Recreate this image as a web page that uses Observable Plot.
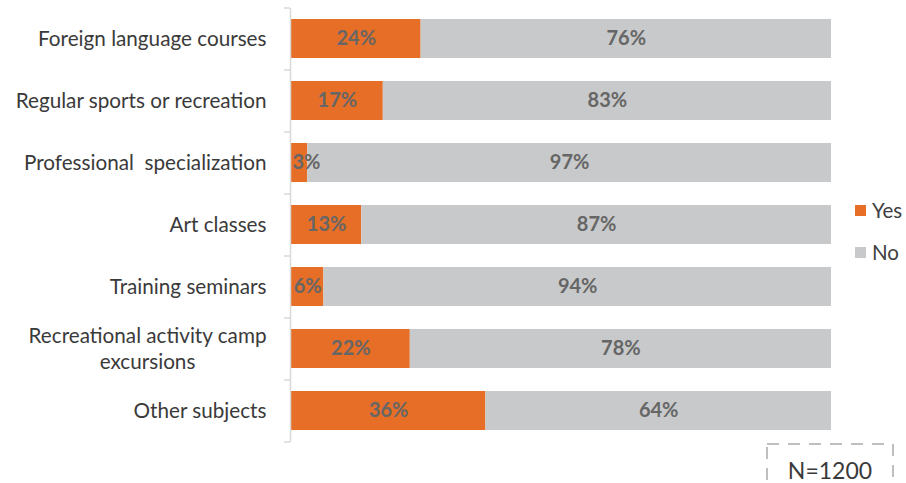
<!DOCTYPE html>
<html>
<head>
<meta charset="utf-8">
<script src="https://cdn.jsdelivr.net/npm/d3@7"></script>
<script src="https://cdn.jsdelivr.net/npm/@observablehq/plot@0.6"></script>
<style>
  html, body { margin: 0; padding: 0; background: #fff; }
  #wrap { position: relative; width: 906px; height: 483px; overflow: hidden; font-family: Lato, "Open Sans", sans-serif; }
  #legend { position: absolute; left: 855px; top: 198px; color: #404040; font-size: 20.5px; }
  #legend .item { display: flex; align-items: center; height: 24px; margin-bottom: 18px; }
  #legend .sw { width: 11px; height: 11px; margin-right: 6px; }
  #note { position: absolute; left: 766px; top: 443px; }
</style>
</head>
<body>
<div id="wrap">
  <div id="chart"></div>
  <div id="legend"></div>
  <svg id="note" width="130" height="45"></svg>
</div>
<script>
const categories = [
  "Foreign language courses",
  "Regular sports or recreation",
  "Professional  specialization",
  "Art classes",
  "Training seminars",
  "Recreational activity camp\nexcursions",
  "Other subjects"
];
const answers = ["Yes", "No"];
const yesValues = [24, 17, 3, 13, 6, 22, 36];
const noValues = [76, 83, 97, 87, 94, 78, 64];
const colors = ["#E66E26", "#C8C9CA"];
const noteText = "N=1200";

const data = categories.flatMap((c, i) => [
  {category: c, answer: "Yes", value: yesValues[i]},
  {category: c, answer: "No", value: noValues[i]}
]);

const W = 906, H = 483, mt = 8, mb = 41, ml = 291, mr = 75;
const step = (H - mt - mb) / categories.length;
const small = d => d.answer === "Yes" && d.value < 5;

const chart = Plot.plot({
  width: W, height: H,
  marginTop: mt, marginBottom: mb, marginLeft: ml, marginRight: mr,
  style: {fontFamily: "Lato, 'Open Sans', sans-serif", background: "#fff"},
  x: {domain: [0, 100], axis: null},
  y: {domain: categories, paddingInner: 0.37, paddingOuter: 0.185, axis: null, label: null},
  color: {domain: answers, range: colors},
  marks: [
    Plot.barX(data, Plot.stackX({x: "value", y: "category", fill: "answer", order: answers})),
    Plot.text(data, Plot.stackX({
      x: "value", y: "category", z: "answer", order: answers,
      text: d => small(d) ? "" : d.value + "%",
      fill: "#666666", fontWeight: "bold", fontSize: 20
    })),
    Plot.text(data.filter(small), {
      x: 0, y: "category", text: d => d.value + "%",
      textAnchor: "start", dx: 1,
      fill: "#666666", fontWeight: "bold", fontSize: 20
    }),
    Plot.ruleX([0], {stroke: "#D9D9D9", strokeWidth: 1.5, dx: -1}),
    Plot.axisY({ticks: categories, tickSize: 6, tickFormat: () => "", label: null, stroke: "#D9D9D9", strokeWidth: 1.5, dy: -step / 2, dx: -1}),
    Plot.axisY({ticks: [categories[categories.length - 1]], tickSize: 6, tickFormat: () => "", label: null, stroke: "#D9D9D9", strokeWidth: 1.5, dy: step / 2, dx: -1}),
    Plot.text(categories, {
      y: d => d, text: d => d, frameAnchor: "left", textAnchor: "end", dx: -25, dy: -1,
      fill: "#3A3A3A", fontSize: 20.7, lineHeight: 1.25, className: "catlabels"
    })
  ]
});
document.getElementById("chart").appendChild(chart);

// center multi-line category labels the way the original does
document.querySelectorAll(".catlabels text").forEach(t => {
  const spans = t.querySelectorAll("tspan");
  if (spans.length > 1) {
    let w = 0;
    spans.forEach(s => { w = Math.max(w, s.getComputedTextLength()); });
    t.setAttribute("text-anchor", "middle");
    spans.forEach(s => s.setAttribute("x", -w / 2));
  }
});

// legend
const legend = document.getElementById("legend");
answers.forEach((a, i) => {
  const item = document.createElement("div");
  item.className = "item";
  item.innerHTML = `<div class="sw" style="background:${colors[i]}"></div><span>${a}</span>`;
  legend.appendChild(item);
});

// N note box
const note = d3.select("#note");
note.append("rect").attr("x", 1).attr("y", 1).attr("width", 126).attr("height", 60)
  .attr("fill", "none").attr("stroke", "#BFBFBF").attr("stroke-width", 2).attr("stroke-dasharray", "12 9");
note.append("text").attr("x", 64).attr("y", 36).attr("text-anchor", "middle")
  .attr("font-size", 23).attr("fill", "#3A3A3A").attr("font-family", "Lato, 'Open Sans', sans-serif").text(noteText);
</script>
</body>
</html>
